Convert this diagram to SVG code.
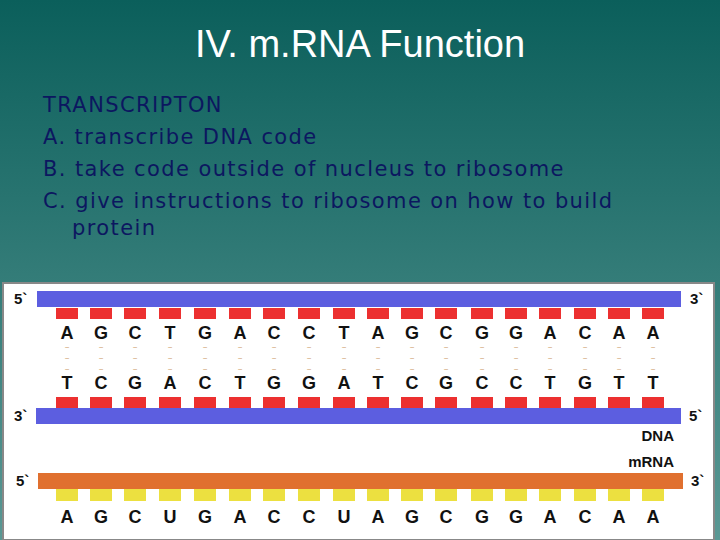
<svg xmlns="http://www.w3.org/2000/svg" width="720" height="540" viewBox="0 0 720 540">
<defs>
<linearGradient id="bg" x1="0" y1="0" x2="0" y2="1">
<stop offset="0" stop-color="#0b5f5b"/><stop offset="1" stop-color="#5a9894"/>
</linearGradient>
<style>
.t{font-family:"Liberation Sans",Arial,sans-serif}
.b{font-family:"DejaVu Sans",sans-serif;font-size:21px;letter-spacing:1.4px;fill:#0c1760}
.n{font-family:"Liberation Sans",Arial,sans-serif;font-weight:bold;font-size:18px;fill:#111;text-anchor:middle}
.e{font-family:"Liberation Sans",Arial,sans-serif;font-weight:bold;font-size:15px;fill:#111}
.til{font-family:"Liberation Sans",sans-serif;font-size:8px;fill:#c8915a;text-anchor:middle}
</style>
</defs>
<rect width="720" height="540" fill="url(#bg)"/>
<g id="title"><text class="t" x="360" y="57" font-size="38" fill="#fff" text-anchor="middle">IV. m.RNA Function</text></g>
<g id="body">
<text class="b" x="43" y="112">TRANSCRIPTON</text>
<text class="b" x="43" y="144">A. transcribe DNA code</text>
<text class="b" x="43" y="176">B.  take code outside of nucleus to ribosome</text>
<text class="b" x="43" y="208">C.  give instructions to ribosome on how to build</text>
<text class="b" x="72" y="235">protein</text>
</g>
<g id="panel">
<rect x="3" y="283" width="711" height="257" fill="#fff" stroke="#888" stroke-width="2"/>
<rect x="37" y="291" width="644" height="16" fill="#5c5ee0"/>
<rect x="36" y="408" width="645" height="16" fill="#5c5ee0"/>
<rect x="38" y="473" width="645" height="16" fill="#e0702f"/>
<g fill="#ec3030">
<rect x="56" y="308" width="22" height="11"/><rect x="90" y="308" width="22" height="11"/><rect x="124" y="308" width="22" height="11"/><rect x="159" y="308" width="22" height="11"/><rect x="194" y="308" width="22" height="11"/><rect x="229" y="308" width="22" height="11"/><rect x="263" y="308" width="22" height="11"/><rect x="298" y="308" width="22" height="11"/><rect x="333" y="308" width="22" height="11"/><rect x="367" y="308" width="22" height="11"/><rect x="401" y="308" width="22" height="11"/><rect x="435" y="308" width="22" height="11"/><rect x="471" y="308" width="22" height="11"/><rect x="505" y="308" width="22" height="11"/><rect x="539" y="308" width="22" height="11"/><rect x="574" y="308" width="22" height="11"/><rect x="608" y="308" width="22" height="11"/><rect x="642" y="308" width="22" height="11"/>
<rect x="56" y="397" width="22" height="11"/><rect x="90" y="397" width="22" height="11"/><rect x="124" y="397" width="22" height="11"/><rect x="159" y="397" width="22" height="11"/><rect x="194" y="397" width="22" height="11"/><rect x="229" y="397" width="22" height="11"/><rect x="263" y="397" width="22" height="11"/><rect x="298" y="397" width="22" height="11"/><rect x="333" y="397" width="22" height="11"/><rect x="367" y="397" width="22" height="11"/><rect x="401" y="397" width="22" height="11"/><rect x="435" y="397" width="22" height="11"/><rect x="471" y="397" width="22" height="11"/><rect x="505" y="397" width="22" height="11"/><rect x="539" y="397" width="22" height="11"/><rect x="574" y="397" width="22" height="11"/><rect x="608" y="397" width="22" height="11"/><rect x="642" y="397" width="22" height="11"/>
</g>
<g fill="#ece040">
<rect x="56" y="489" width="22" height="12"/><rect x="90" y="489" width="22" height="12"/><rect x="124" y="489" width="22" height="12"/><rect x="159" y="489" width="22" height="12"/><rect x="194" y="489" width="22" height="12"/><rect x="229" y="489" width="22" height="12"/><rect x="263" y="489" width="22" height="12"/><rect x="298" y="489" width="22" height="12"/><rect x="333" y="489" width="22" height="12"/><rect x="367" y="489" width="22" height="12"/><rect x="401" y="489" width="22" height="12"/><rect x="435" y="489" width="22" height="12"/><rect x="471" y="489" width="22" height="12"/><rect x="505" y="489" width="22" height="12"/><rect x="539" y="489" width="22" height="12"/><rect x="574" y="489" width="22" height="12"/><rect x="608" y="489" width="22" height="12"/><rect x="642" y="489" width="22" height="12"/>
</g>
<text class="n" y="339"><tspan x="67">A</tspan><tspan x="101">G</tspan><tspan x="135">C</tspan><tspan x="170">T</tspan><tspan x="205">G</tspan><tspan x="240">A</tspan><tspan x="274">C</tspan><tspan x="309">C</tspan><tspan x="344">T</tspan><tspan x="378">A</tspan><tspan x="412">G</tspan><tspan x="446">C</tspan><tspan x="482">G</tspan><tspan x="516">G</tspan><tspan x="550">A</tspan><tspan x="585">C</tspan><tspan x="619">A</tspan><tspan x="653">A</tspan></text>
<text class="n" y="389"><tspan x="67">T</tspan><tspan x="101">C</tspan><tspan x="135">G</tspan><tspan x="170">A</tspan><tspan x="205">C</tspan><tspan x="240">T</tspan><tspan x="274">G</tspan><tspan x="309">G</tspan><tspan x="344">A</tspan><tspan x="378">T</tspan><tspan x="412">C</tspan><tspan x="446">G</tspan><tspan x="482">C</tspan><tspan x="516">C</tspan><tspan x="550">T</tspan><tspan x="585">G</tspan><tspan x="619">T</tspan><tspan x="653">T</tspan></text>
<text class="n" y="523"><tspan x="67">A</tspan><tspan x="101">G</tspan><tspan x="135">C</tspan><tspan x="170">U</tspan><tspan x="205">G</tspan><tspan x="240">A</tspan><tspan x="274">C</tspan><tspan x="309">C</tspan><tspan x="344">U</tspan><tspan x="378">A</tspan><tspan x="412">G</tspan><tspan x="446">C</tspan><tspan x="482">G</tspan><tspan x="516">G</tspan><tspan x="550">A</tspan><tspan x="585">C</tspan><tspan x="619">A</tspan><tspan x="653">A</tspan></text>
<g class="til">
<text y="350"><tspan x="67">~</tspan><tspan x="101">~</tspan><tspan x="135">~</tspan><tspan x="170">~</tspan><tspan x="205">~</tspan><tspan x="240">~</tspan><tspan x="274">~</tspan><tspan x="309">~</tspan><tspan x="344">~</tspan><tspan x="378">~</tspan><tspan x="412">~</tspan><tspan x="446">~</tspan><tspan x="482">~</tspan><tspan x="516">~</tspan><tspan x="550">~</tspan><tspan x="585">~</tspan><tspan x="619">~</tspan><tspan x="653">~</tspan></text>
<text y="361"><tspan x="67">~</tspan><tspan x="101">~</tspan><tspan x="135">~</tspan><tspan x="170">~</tspan><tspan x="205">~</tspan><tspan x="240">~</tspan><tspan x="274">~</tspan><tspan x="309">~</tspan><tspan x="344">~</tspan><tspan x="378">~</tspan><tspan x="412">~</tspan><tspan x="446">~</tspan><tspan x="482">~</tspan><tspan x="516">~</tspan><tspan x="550">~</tspan><tspan x="585">~</tspan><tspan x="619">~</tspan><tspan x="653">~</tspan></text>
<text y="372"><tspan x="67">~</tspan><tspan x="101">~</tspan><tspan x="135">~</tspan><tspan x="170">~</tspan><tspan x="205">~</tspan><tspan x="240">~</tspan><tspan x="274">~</tspan><tspan x="309">~</tspan><tspan x="344">~</tspan><tspan x="378">~</tspan><tspan x="412">~</tspan><tspan x="446">~</tspan><tspan x="482">~</tspan><tspan x="516">~</tspan><tspan x="550">~</tspan><tspan x="585">~</tspan><tspan x="619">~</tspan><tspan x="653">~</tspan></text>
</g>
<text class="e" x="14" y="304">5`</text>
<text class="e" x="14" y="421">3`</text>
<text class="e" x="16" y="486">5`</text>
<text class="e" x="690" y="304">3`</text>
<text class="e" x="689" y="421">5`</text>
<text class="e" x="691" y="486">3`</text>
<text class="e" x="674" y="441" text-anchor="end">DNA</text>
<text class="e" x="674" y="467" text-anchor="end">mRNA</text>
</g>
</svg>
